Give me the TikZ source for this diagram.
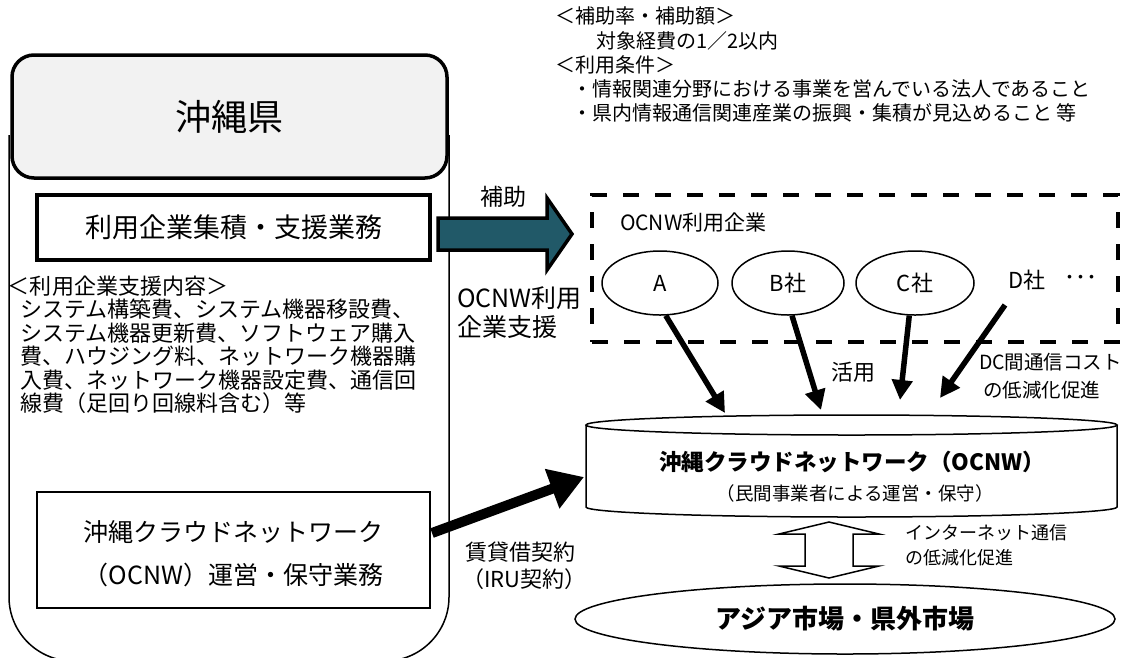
\documentclass[tikz,border=0pt]{standalone}
\usepackage{fontspec}
\setmainfont{Noto Sans CJK JP}
\usetikzlibrary{arrows.meta,shapes.geometric}
\newcommand\fsz[1]{\fontsize{#1pt}{#1pt}\selectfont}
\definecolor{tealA}{HTML}{215968}
\definecolor{hdrgray}{HTML}{F2F2F2}
\tikzset{
  txt/.style={inner sep=0pt, outer sep=0pt, anchor=west},
  ctxt/.style={inner sep=0pt, outer sep=0pt},
  thinline/.style={line width=1.5pt},
  bigarrow/.style={line width=5.5pt, -{Triangle[length=20pt,width=20pt]}},
  irarrow/.style={line width=10pt, -{Triangle[length=34pt,width=40pt]}},
  company/.style={ellipse, draw, line width=1.5pt, minimum height=64pt, inner sep=0pt, font=\fsz{22}}
}
\begin{document}
\begin{tikzpicture}[x=1pt,y=-1pt]
\useasboundingbox (0,0) rectangle (1123,657);
% outer prefecture frame
\draw[thinline, rounded corners=64pt] (9,135) -- (9,661) -- (449,661) -- (449,135);
% header
\node[draw, line width=3.5pt, rounded corners=22pt, fill=hdrgray, minimum width=435pt, minimum height=123pt, inner sep=0pt] (pref) at (229.5,116.5) {\fsz{36}沖縄県};
% support box
\node[draw, line width=4.5pt, fill=white, minimum width=393pt, minimum height=65pt, inner sep=0pt] (support) at (233.5,227.5) {\fsz{27}利用企業集積・支援業務};
% list
\node[txt] (l0) at (8,286) {\fsz{22}＜利用企業支援内容＞};
\node[txt] (l1) at (20,309.5) {\fsz{22}システム構築費、システム機器移設費、};
\node[txt] (l2) at (20,333) {\fsz{22}システム機器更新費、ソフトウェア購入};
\node[txt] (l3) at (20,356.5) {\fsz{22}費、ハウジング料、ネットワーク機器購};
\node[txt] (l4) at (20,380) {\fsz{22}入費、ネットワーク機器設定費、通信回};
\node[txt] (l5) at (20,403.5) {\fsz{22}線費（足回り回線料含む）等};
% operation box
\node[draw, thinline, minimum width=393pt, minimum height=116pt, inner sep=0pt] (ops) at (233.5,550) {};
\node[ctxt, align=center, font=\fontsize{25pt}{43pt}\selectfont] (opstxt) at (233.5,553.5) {沖縄クラウドネットワーク\\（OCNW）運営・保守業務};
% top conditions
\node[txt] (h1) at (555,16) {\fsz{20}＜補助率・補助額＞};
\node[txt] (h2) at (596,41) {\fsz{20}対象経費の1／2以内};
\node[txt] (h3) at (555,65) {\fsz{20}＜利用条件＞};
\node[txt] (h4) at (572,89) {\fsz{20}・情報関連分野における事業を営んでいる法人であること};
\node[txt] (h5) at (572,113) {\fsz{20}・県内情報通信関連産業の振興・集積が見込めること\ 等};
% subsidy arrow
\draw[line width=3.5pt, fill=tealA, line join=miter] (438,218) -- (547,218) -- (547,198) -- (572,234) -- (547,270) -- (547,250) -- (438,250) -- cycle;
\node[ctxt] (hojo) at (503,197) {\fsz{23}補助};
\node[txt] (sup1) at (457,298) {\fsz{25}OCNW利用};
\node[txt] (sup2) at (457,327) {\fsz{25}企業支援};
% users group
\node[draw, line width=4pt, dash pattern=on 16pt off 16pt, minimum width=526pt, minimum height=147pt, inner sep=0pt] (grp) at (855,268.5) {};
\node[txt] (grpl) at (620,223) {\fsz{21}OCNW利用企業};
\node[company, minimum width=116pt] (A) at (660,283) {A};
\node[company, minimum width=112pt] (B) at (788,283) {B社};
\node[company, minimum width=118pt] (C) at (915,283) {C社};
\node[ctxt] (D) at (1027,280) {\fsz{22}D社};
\node[ctxt] (dots) at (1081,280) {\fsz{22}･･･};
% cylinder
\fill[white] (586,425) rectangle (1117,507);
\draw[thinline] (586,425) -- (586,507) arc[start angle=180, end angle=0, x radius=265.5, y radius=10] -- (1117,425);
\draw[thinline, fill=white] (851.5,425) ellipse [x radius=265.5, y radius=10];
\node[ctxt, font=\bfseries] (cyl) at (852,462) {\fsz{22.5}沖縄クラウドネットワーク（OCNW）};
\node[ctxt] (cylsub) at (855,493) {\fsz{18.5}（民間事業者による運営・保守）};
% usage arrows
\coordinate (Dstart) at (1005,305);
\coordinate (tA) at (725,413);
\coordinate (tB) at (821,410);
\coordinate (tC) at (900,400);
\coordinate (tD) at (940,398);
\draw[bigarrow] (A.-80) -- (tA);
\draw[bigarrow] (B.-83) -- (tB);
\draw[bigarrow] (C.-100) -- (tC);
\draw[bigarrow] (Dstart) -- (tD);
\node[ctxt] (katsuyo) at (853,372) {\fsz{22}活用};
\node[txt] (dc1) at (979,362) {\fsz{19.5}DC間通信コスト};
\node[txt] (dc2) at (983,390) {\fsz{19.5}の低減化促進};
% lease arrow
\coordinate (iruS) at (432,533);
\coordinate (iruE) at (584,477);
\draw[irarrow] (iruS) -- (iruE);
\node[txt] (iru1) at (465,552) {\fsz{22}賃貸借契約};
\node[txt] (iru2) at (462,579) {\fsz{22}（IRU契約）};
% double arrow
\draw[thinline, fill=white, line join=miter] (829,522) -- (879,534) -- (853,534) -- (853,566) -- (879,566) -- (829,578) -- (779,566) -- (805,566) -- (805,534) -- (779,534) -- cycle;
\node[txt] (in1) at (905,533) {\fsz{18}インターネット通信};
\node[txt] (in2) at (905,558) {\fsz{18}の低減化促進};
% market
\node[ellipse, draw, thinline, minimum width=540pt, minimum height=70pt, inner sep=0pt, font=\bfseries] (asia) at (845,619) {\fsz{26}アジア市場・県外市場};
\end{tikzpicture}
\end{document}
